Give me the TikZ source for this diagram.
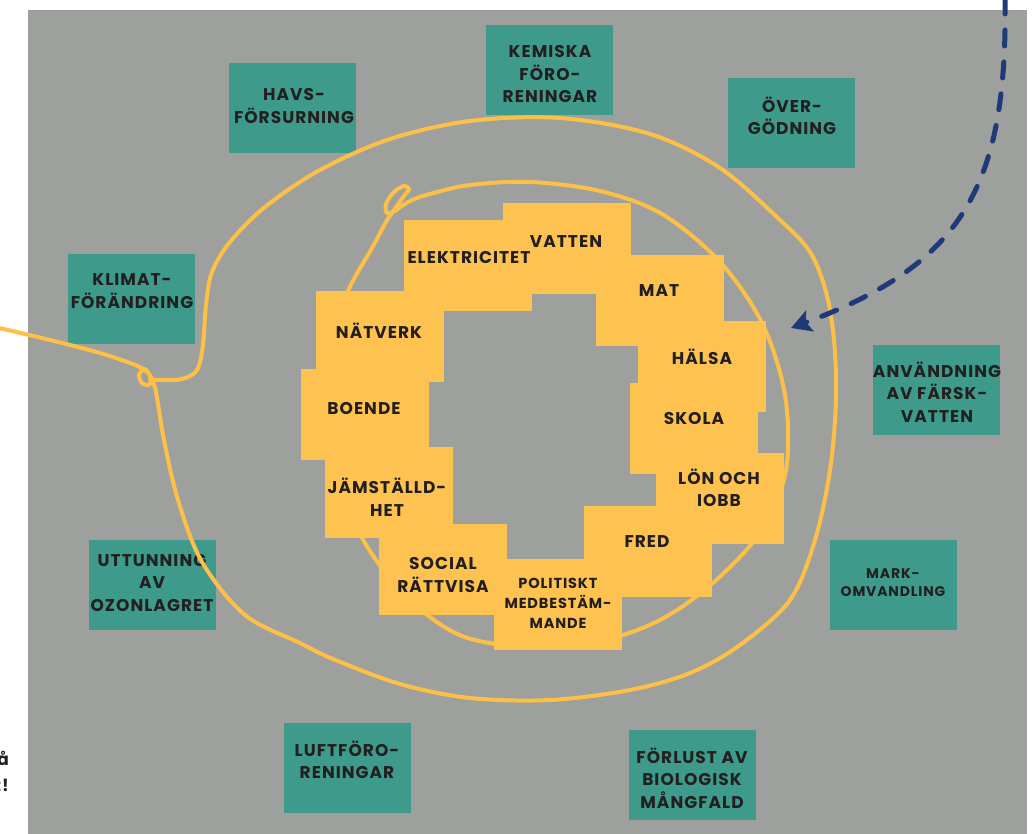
\documentclass[tikz,border=0pt]{standalone}
\usepackage{fontspec}
\usetikzlibrary{arrows.meta}
\newfontfamily\lblfam{Poppins}[LetterSpace=6]
\definecolor{bg}{RGB}{158,160,157}
\definecolor{tealbox}{RGB}{62,155,140}
\definecolor{yel}{RGB}{253,194,80}
\definecolor{yline}{RGB}{252,192,72}
\definecolor{ink}{RGB}{35,31,32}
\definecolor{navy}{RGB}{30,58,120}
\tikzset{
  ybox/.style={fill=yel, draw=none, minimum width=128pt, minimum height=91pt, inner sep=0pt, anchor=north west},
  tbox/.style={fill=tealbox, draw=none, minimum width=127pt, minimum height=90pt, inner sep=0pt, anchor=north west},
  lbl/.style={font=\lblfam\bfseries\fontsize{17}{22.5}\selectfont, text=ink, align=center, inner sep=0pt},
  slbl/.style={font=\lblfam\bfseries\fontsize{14.5}{20}\selectfont, text=ink, align=center, inner sep=0pt},
  xslbl/.style={font=\lblfam\bfseries\fontsize{14}{18}\selectfont, text=ink, align=center, inner sep=0pt},
  yloop/.style={draw=yline, line width=4pt, line cap=round, line join=round},
  darrow/.style={draw=navy, line width=5pt, line cap=round, dash pattern=on 16pt off 16pt, -{Stealth[length=20pt,width=22pt,inset=4pt]}},
}
\begin{document}
\begin{tikzpicture}[x=1pt,y=-1pt]
\useasboundingbox (0,0) rectangle (1033,834);
\fill[white] (0,0) rectangle (1033,834);
\fill[bg] (28,10) rectangle (1027,834);
% cropped text at left edge
\node[lbl, anchor=base east] (cut1) at (9,765) {å};
\node[lbl, anchor=base east] (cut2) at (9,791) {t!};
% teal boxes
\node[tbox] (havs) at (229,63) {};
\node[tbox] (kem) at (486,25) {};
\node[tbox] (over) at (728,78) {};
\node[tbox] (klim) at (68,254) {};
\node[tbox] (anv) at (873,345) {};
\node[tbox] (mark) at (830,540) {};
\node[tbox] (utt) at (89,540) {};
\node[tbox] (luft) at (284,723) {};
\node[tbox] (forl) at (629,730) {};
\node[lbl] (havsT) at (294,106) {HAVS-\\FÖRSURNING};
\node[lbl] (kemT) at (550,74) {KEMISKA\\FÖRO-\\RENINGAR};
\node[lbl] (overT) at (792,116) {ÖVER-\\GÖDNING};
\node[lbl] (klimT) at (132,291) {KLIMAT-\\FÖRÄNDRING};
\node[lbl] (anvT) at (937,392) {ANVÄNDNING\\AV FÄRSK-\\VATTEN};
\node[xslbl] (markT) at (893,583) {MARK-\\OMVANDLING};
\node[lbl] (uttT) at (152,583) {UTTUNNING\\AV\\OZONLAGRET};
\node[lbl] (luftT) at (347,760) {LUFTFÖRO-\\RENINGAR};
\node[lbl] (forlT) at (692,778) {FÖRLUST AV\\BIOLOGISK\\MÅNGFALD};
% outer hand-drawn loop
\draw[yloop] plot[smooth, tension=0.55] coordinates {(-5,327) (50,340) (100,353) (130,363) (143,369) (151,377) (149,385) (142,383) (139,375) (145,369) (151,378) (156,392) (164,440) (178,500) (202,562) (245,615) (300,643) (333,659) (400,684) (470,698) (550,700) (630,690) (690,673) (740,645) (790,600) (815,540) (830,470) (836,400) (834,340) (826,292) (810,252) (780,220) (720,168) (650,134) (560,118) (470,121) (390,139) (320,170) (265,207) (230,242) (212,272) (206,305) (203,345) (197,370) (182,379) (160,380) (150,379)};
% inner hand-drawn loop
\draw[yloop] plot[smooth, tension=0.55] coordinates {(395,211) (410,201) (430,194) (470,185) (530,182) (600,191) (662,214) (720,262) (762,323) (785,395) (786,470) (762,530) (714,582) (660,620) (600,641) (530,647) (462,636) (410,600) (368,548) (337,482) (323,410) (330,345) (348,291) (372,248) (386,222) (394,210) (404,196) (409,189) (404,186) (394,192) (386,204) (387,213) (395,211)};
% yellow boxes
\node[ybox] (elek) at (404,220) {};
\node[ybox] (vat) at (503,203) {};
\node[ybox] (mat) at (596,255) {};
\node[ybox] (hals) at (638,321) {};
\node[ybox] (skol) at (630,383) {};
\node[ybox] (lon) at (656,453) {};
\node[ybox] (fred) at (584,506) {};
\node[ybox] (pol) at (494,559) {};
\node[ybox] (soc) at (379,524) {};
\node[ybox] (jam) at (325,447) {};
\node[ybox] (boe) at (301,369) {};
\node[ybox] (nat) at (316,291) {};
\node[lbl] (elekT) at (469,258) {ELEKTRICITET};
\node[lbl] (vatT) at (566,242) {VATTEN};
\node[lbl] (matT) at (659,291) {MAT};
\node[lbl] (halsT) at (702,357) {HÄLSA};
\node[lbl] (skolT) at (694,419) {SKOLA};
\node[lbl] (lonT) at (719,488) {LÖN OCH\\IOBB};
\node[lbl] (fredT) at (647,542) {FRED};
\node[slbl] (polT) at (558,603) {POLITISKT\\MEDBESTÄM-\\MANDE};
\node[lbl] (socT) at (443,575) {SOCIAL\\RÄTTVISA};
\node[lbl] (jamT) at (387,497) {JÄMSTÄLLD-\\HET};
\node[lbl] (boeT) at (364,409) {BOENDE};
\node[lbl] (natT) at (379,331) {NÄTVERK};
% dashed arrow
\coordinate (arrS) at (1005,-2);
\coordinate (arrE) at (791,328);
\draw[darrow] (arrS) .. controls (1008,190) and (960,265) .. (arrE);
\end{tikzpicture}
\end{document}
